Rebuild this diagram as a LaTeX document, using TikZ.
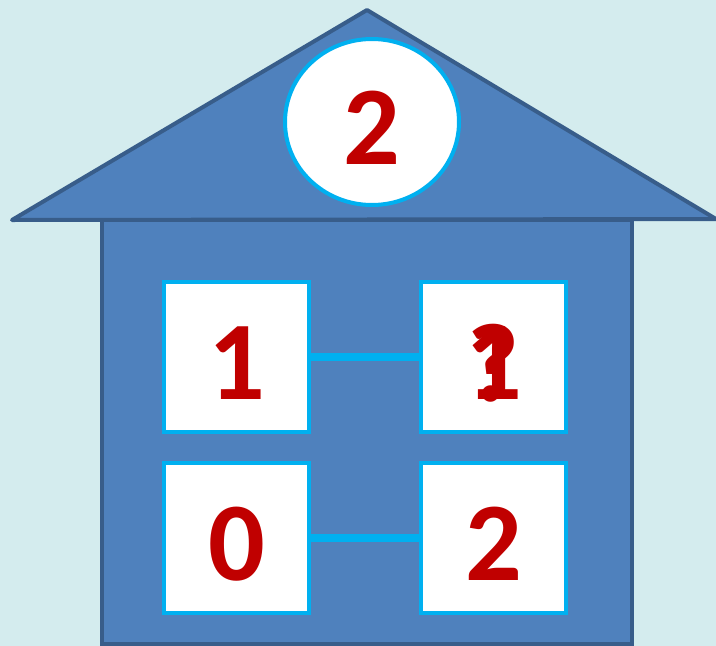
\documentclass[tikz,border=0pt]{standalone}
\usepackage{fontspec}
\setmainfont{Carlito}
\usetikzlibrary{shapes.geometric, positioning, calc}

\definecolor{bgcyan}{RGB}{212,236,238}
\definecolor{housefill}{RGB}{79,129,189}
\definecolor{houseline}{RGB}{56,93,138}
\definecolor{skyline}{RGB}{0,176,240}
\definecolor{digitred}{RGB}{192,0,0}

\begin{document}
\begin{tikzpicture}[
  x=1pt, y=-1pt,
  cell/.style={draw=skyline, line width=4pt, fill=white, minimum width=145pt, minimum height=150pt, inner sep=0pt},
  digit/.style={text=digitred, font=\fontsize{112}{112}\selectfont\bfseries, yshift=-6pt},
  link/.style={skyline, line width=7.5pt}
]

% Background
\fill[bgcyan] (0,0) rectangle (716,646);
\useasboundingbox (0,0) rectangle (716,646);

% House
\filldraw[fill=housefill, draw=houseline, line width=4pt, line join=round, line cap=round] (12,220) -- (367,10) -- (716,219) -- cycle;
\filldraw[fill=housefill, draw=houseline, line width=4pt] (102,220) rectangle (632,644);

% Roof number
\node[ellipse, draw=skyline, line width=4pt, fill=white, minimum width=174pt, minimum height=166pt] (roof) at (372,122) {};
\node[digit] at (roof) {2};

% Cells
\node[cell] (tl) at (236.5,357) {};
\node[cell] (tr) at (493.5,357) {};
\node[cell] (bl) at (236.5,538) {};
\node[cell] (br) at (493.5,538) {};

\node[digit] at (tl) {1};
\node[digit] at (tr) {?};
\node[digit] at (tr) {1};
\node[digit] at (bl) {0};
\node[digit] at (br) {2};

% Links
\draw[link] (tl.east) -- ([xshift=4pt]tr.west);
\draw[link] (bl.east) -- ([xshift=4pt]br.west);

\end{tikzpicture}
\end{document}
